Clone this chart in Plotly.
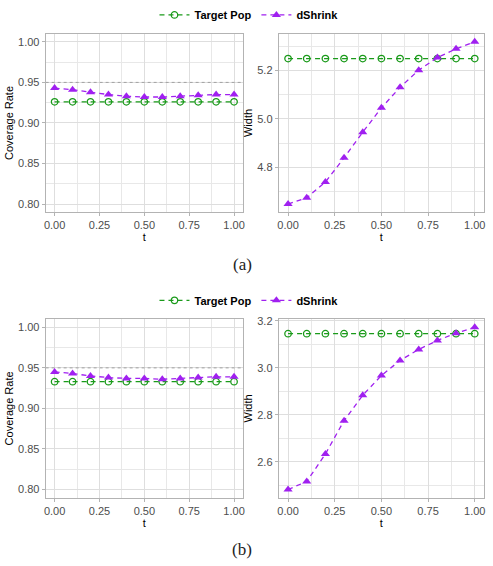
import plotly.graph_objects as go

W, H = 493, 566

t = [0.0, 0.1, 0.2, 0.3, 0.4, 0.5, 0.6, 0.7, 0.8, 0.9, 1.0]

# Panel (a)
cov_target_a = [0.926] * 11
cov_dshrink_a = [0.943, 0.941, 0.938, 0.935, 0.933, 0.932, 0.932, 0.933, 0.934, 0.935, 0.935]
wid_target_a = [5.250] * 11
wid_dshrink_a = [4.648, 4.674, 4.739, 4.839, 4.945, 5.046, 5.131, 5.202, 5.254, 5.290, 5.319]

# Panel (b)
cov_target_b = [0.933] * 11
cov_dshrink_b = [0.945, 0.943, 0.940, 0.938, 0.937, 0.937, 0.936, 0.937, 0.938, 0.939, 0.939]
wid_target_b = [3.146] * 11
wid_dshrink_b = [2.483, 2.517, 2.634, 2.776, 2.884, 2.968, 3.032, 3.079, 3.117, 3.148, 3.173]

NOMINAL = 0.95
COV_LIMITS = [0.80, 1.00]
COV_TICKS = [0.80, 0.85, 0.90, 0.95, 1.00]
X_TICKS = [0.0, 0.25, 0.5, 0.75, 1.0]
captions = ["(a)", "(b)"]
series_names = ["Target Pop", "dShrink"]

GREEN = "#1a9a1a"
PURPLE = "#a020f0"
FONT = "Liberation Sans, Arial, sans-serif"


def expand(lo, hi, f=0.05):
    d = hi - lo
    return [lo - f * d, hi + f * d]


fig = go.Figure()

# pixel layout
xdom_left = [44 / W, 243 / W]
xdom_right = [279 / W, 486 / W]
ydom_top = [(H - 209) / H, (H - 29) / H]
ydom_bot = [(H - 497) / H, (H - 317) / H]

panels = [
    (1, xdom_left, ydom_top, cov_target_a, cov_dshrink_a, "legend", True),
    (2, xdom_right, ydom_top, wid_target_a, wid_dshrink_a, "legend", False),
    (3, xdom_left, ydom_bot, cov_target_b, cov_dshrink_b, "legend2", True),
    (4, xdom_right, ydom_bot, wid_target_b, wid_dshrink_b, "legend2", False),
]

grid_major = "#DEDEDE"
grid_minor = "#E8E8E8"
border = "#B3B3B3"

for idx, xd, yd, tgt, dsh, leg, show in panels:
    xa = "x" if idx == 1 else f"x{idx}"
    ya = "y" if idx == 1 else f"y{idx}"
    is_cov = idx in (1, 3)
    if is_cov:
        # nominal reference line (geom_hline), drawn as a trace under the series
        fig.add_trace(go.Scatter(
            x=[-0.05, 1.05], y=[NOMINAL, NOMINAL], mode="lines",
            line=dict(color="#A0A0A0", width=1, dash="dot"),
            xaxis=xa, yaxis=ya, showlegend=False, hoverinfo="skip",
        ))
    fig.add_trace(go.Scatter(
        x=t, y=tgt, mode="lines+markers", name=series_names[0],
        line=dict(color=GREEN, width=1.3, dash="5px,4px"),
        marker=dict(symbol="circle-open", size=6.5, color=GREEN, line=dict(width=1.3)),
        xaxis=xa, yaxis=ya, legend=leg, showlegend=show,
    ))
    fig.add_trace(go.Scatter(
        x=t, y=dsh, mode="lines+markers", name=series_names[1],
        line=dict(color=PURPLE, width=1.3, dash="5px,4px"),
        marker=dict(symbol="triangle-up", size=8, color=PURPLE),
        xaxis=xa, yaxis=ya, legend=leg, showlegend=show,
    ))
    if is_cov:
        yrange = expand(*COV_LIMITS)
        yticks = dict(tickvals=COV_TICKS, tickformat=".2f",
                      minor=dict(dtick=0.025, showgrid=True, gridcolor=grid_minor, gridwidth=1, ticks=""))
        ytitle = "Coverage Rate"
    else:
        yrange = expand(min(tgt + dsh), max(tgt + dsh))
        yticks = dict(dtick=0.2, tick0=0, tickformat=".1f",
                      minor=dict(dtick=0.1, showgrid=True, gridcolor=grid_minor, gridwidth=1, ticks=""))
        ytitle = "Width"
    key_x = "xaxis" if idx == 1 else f"xaxis{idx}"
    key_y = "yaxis" if idx == 1 else f"yaxis{idx}"
    fig.layout[key_x] = dict(
        domain=xd, anchor=ya, range=expand(0, 1), tickvals=X_TICKS, tickformat=".2f",
        showgrid=True, gridcolor=grid_major, gridwidth=1,
        minor=dict(dtick=0.125, tick0=0, showgrid=True, gridcolor=grid_minor, gridwidth=1, ticks=""),
        showline=True, mirror=True, linecolor=border, linewidth=1,
        ticks="outside", ticklen=3, tickcolor=border,
        tickfont=dict(family=FONT, size=11, color="#4D4D4D"),
        title=dict(text="t", font=dict(family=FONT, size=11, color="black"), standoff=2),
        zeroline=False,
    )
    fig.layout[key_y] = dict(
        domain=yd, anchor=xa, range=yrange,
        showgrid=True, gridcolor=grid_major, gridwidth=1,
        showline=True, mirror=True, linecolor=border, linewidth=1,
        ticks="outside", ticklen=3, tickcolor=border,
        tickfont=dict(family=FONT, size=11, color="#4D4D4D"),
        title=dict(text=ytitle, font=dict(family=FONT, size=11, color="black"), standoff=2),
        zeroline=False, **yticks,
    )

legend_common = dict(
    orientation="h", xanchor="center", yanchor="middle", x=249 / W,
    font=dict(family=FONT, size=11, color="black", weight="bold"),
    bgcolor="rgba(0,0,0,0)", itemwidth=30, tracegroupgap=0,
)
fig.update_layout(
    width=W, height=H, margin=dict(l=0, r=0, t=0, b=0),
    paper_bgcolor="white", plot_bgcolor="white",
    legend=dict(y=1 - 10 / H, **legend_common),
    legend2=dict(y=1 - 298 / H, **legend_common),
)

for cap, ypix in zip(captions, [262, 549]):
    fig.add_annotation(text=cap, xref="paper", yref="paper", x=242 / W, y=1 - ypix / H,
                       showarrow=False, xanchor="center", yanchor="middle",
                       font=dict(family="Liberation Serif, DejaVu Serif, serif", size=17, color="#222"))

fig.write_html("out.html")
